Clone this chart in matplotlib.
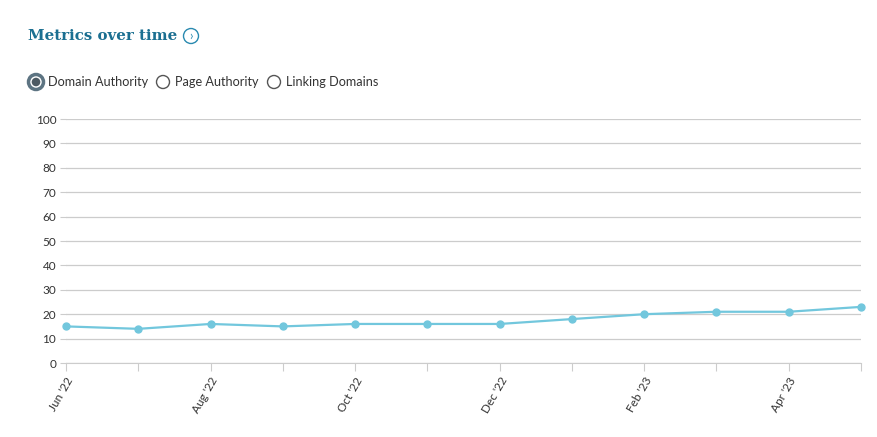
import matplotlib
matplotlib.use("Agg")
import matplotlib.pyplot as plt
from matplotlib.patches import Circle

months = ["Jun '22", "Jul '22", "Aug '22", "Sep '22", "Oct '22", "Nov '22",
          "Dec '22", "Jan '23", "Feb '23", "Mar '23", "Apr '23", "May '23"]
domain_authority = [15, 14, 16, 15, 16, 16, 16, 18, 20, 21, 21, 23]
y_ticks = [0, 10, 20, 30, 40, 50, 60, 70, 80, 90, 100]
radio_labels = ["Domain Authority", "Page Authority", "Linking Domains"]

W, H = 877, 437
fig = plt.figure(figsize=(W / 100, H / 100), dpi=100)
plt.rcParams['font.family'] = ['Lato', 'DejaVu Sans']

ax = fig.add_axes([66 / W, 1 - 363 / H, (861 - 66) / W, (363 - 119) / H])
x = list(range(len(months)))
ax.plot(x, domain_authority, color="#72c7dd", lw=1.6, marker="o", ms=5,
        markerfacecolor="#72c7dd", markeredgecolor="#72c7dd", zorder=3, clip_on=False)
ax.set_xlim(0, len(months) - 1)
ax.set_ylim(0, 100)
ax.set_yticks(y_ticks)
ax.set_yticklabels([str(v) for v in y_ticks], fontsize=8.5, color="#333333")
ax.set_xticks(x)
ax.set_xticklabels([m if i % 2 == 0 else "" for i, m in enumerate(months)],
                   rotation=60, ha="right", rotation_mode="anchor", fontsize=8.5, color="#333333")
ax.grid(axis="y", color="#cccccc", lw=0.9)
ax.set_axisbelow(True)
for s in ["top", "right", "left"]:
    ax.spines[s].set_visible(False)
ax.spines["bottom"].set_color("#cccccc")
ax.tick_params(axis="y", length=4, color="#cccccc", pad=3)
ax.tick_params(axis="x", length=6, color="#cccccc", pad=3)

# Title
fig.text(28 / W, 1 - 36 / H, "Metrics over time", fontsize=10.8, fontweight="bold",
         family="DejaVu Serif", color="#1b6f91", va="center", ha="left")
cx, cy = 191, 36
fig.patches.append(Circle((cx, H - cy), 7.5, transform=None, fill=False,
                          ec="#2a8ab0", lw=1.0))
fig.text(cx / W, 1 - cy / H, "›", fontsize=9, color="#2a8ab0", ha="center", va="center")

# Radio buttons
rx = [36, 163, 274]
tx = [48, 175, 286]
ry = 82
for i, (bx, lab) in enumerate(zip(rx, radio_labels)):
    if i == 0:
        fig.patches.append(Circle((bx, H - ry), 7.5, transform=None, fc="#ffffff",
                                  ec="#5d7482", lw=2.5))
        fig.patches.append(Circle((bx, H - ry), 4.3, transform=None, fc="#4d5a63", ec="none"))
    else:
        fig.patches.append(Circle((bx, H - ry), 6.5, transform=None, fc="white",
                                  ec="#555555", lw=1.0))
    fig.text(tx[i] / W, 1 - ry / H, lab, fontsize=9.1, color="#333333", va="center", ha="left")

fig.savefig("out.png", dpi=100)
